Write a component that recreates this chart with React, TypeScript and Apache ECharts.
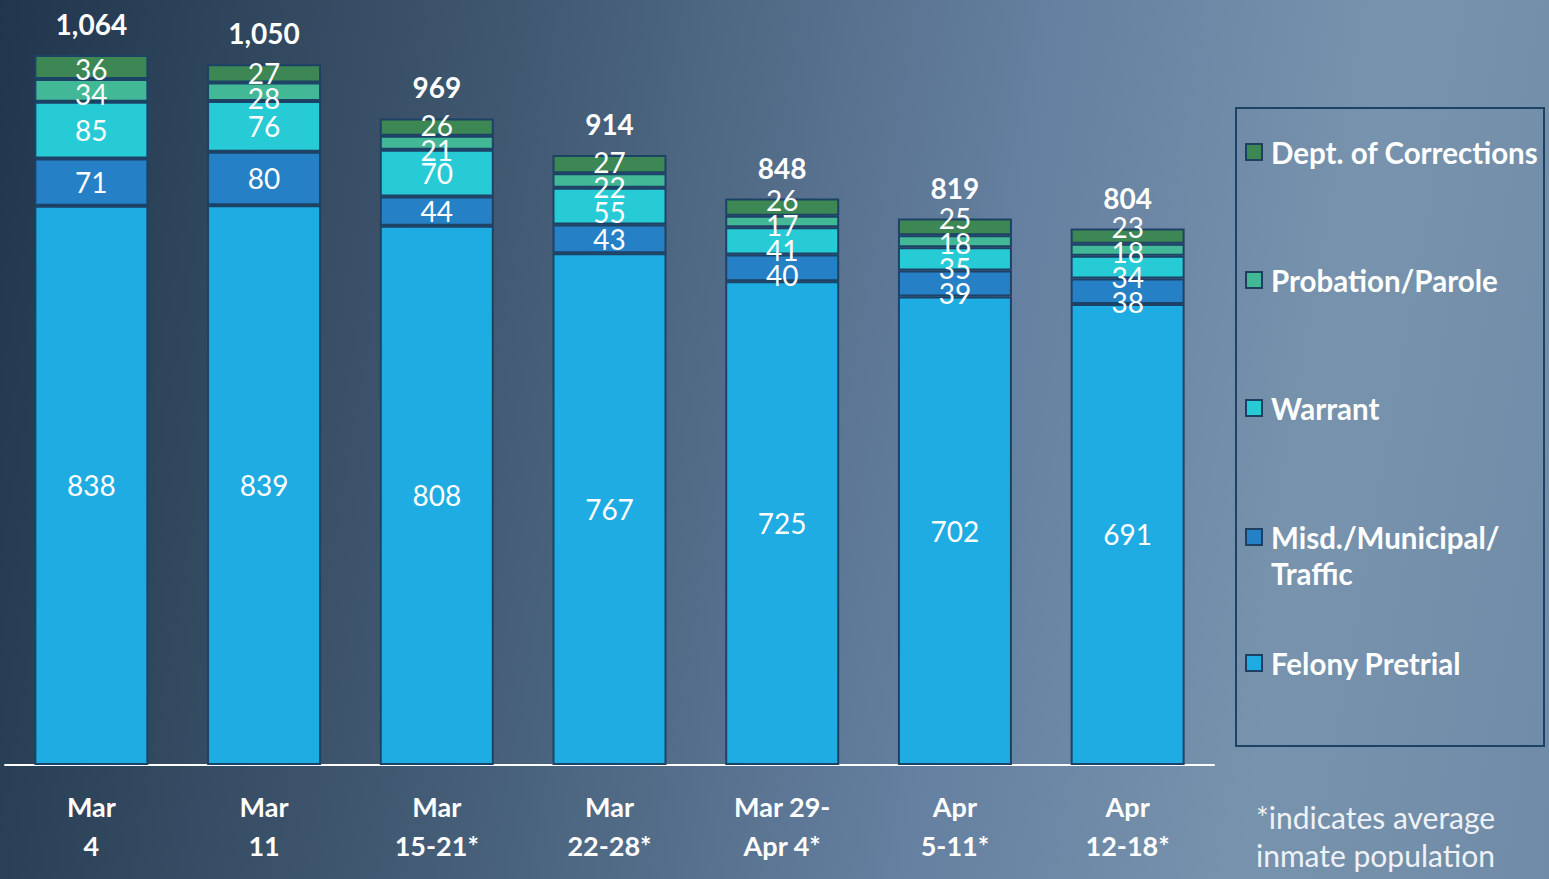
import React, { useEffect, useRef } from "react";
import * as echarts from "echarts";

const categories = ["Mar\n4", "Mar\n11", "Mar\n15-21*", "Mar\n22-28*", "Mar 29-\nApr 4*", "Apr\n5-11*", "Apr\n12-18*"];
const felonyPretrial = [838, 839, 808, 767, 725, 702, 691];
const misdMunicipalTraffic = [71, 80, 44, 43, 40, 39, 38];
const warrant = [85, 76, 70, 55, 41, 35, 34];
const probationParole = [34, 28, 21, 22, 17, 18, 18];
const deptOfCorrections = [36, 27, 26, 27, 26, 25, 23];
const totals = [1064, 1050, 969, 914, 848, 819, 804];

const seriesNames = ["Felony Pretrial", "Misd./Municipal/Traffic", "Warrant", "Probation/Parole", "Dept. of Corrections"];
const seriesValues = [felonyPretrial, misdMunicipalTraffic, warrant, probationParole, deptOfCorrections];
const seriesColors = ["#1eace2", "#2680c6", "#27cbd6", "#42b897", "#3c8753"];

const W = 1549;
const H = 879;
const GRID_TOP = 31;
const GRID_BOTTOM = 114;
const Y_MAX = 1100;
const FONT = "Lato, 'Open Sans', sans-serif";
const LABEL_GAP = 25;
const LABEL_SHIFT = 3;

// spread labels inside each column so they do not overlap (balanced groups)
function computeOffsets(): number[][] {
  const pxPerUnit = (H - GRID_TOP - GRID_BOTTOM) / Y_MAX;
  const offsets = seriesValues.map(() => categories.map(() => 0));
  for (let c = 0; c < categories.length; c++) {
    let base = 0;
    const desired: number[] = [];
    for (let s = 0; s < seriesValues.length; s++) {
      const v = seriesValues[s][c];
      desired.push((base + v / 2) * pxPerUnit);
      base += v;
    }
    type G = { items: number[]; start: number };
    const groups: G[] = [];
    for (let i = 0; i < desired.length; i++) {
      let g: G = { items: [i], start: desired[i] };
      while (groups.length) {
        const prev = groups[groups.length - 1];
        const prevEnd = prev.start + (prev.items.length - 1) * LABEL_GAP;
        if (prevEnd + LABEL_GAP > g.start) {
          groups.pop();
          const items = prev.items.concat(g.items);
          let sum = 0;
          items.forEach((it, k) => (sum += desired[it] - k * LABEL_GAP));
          g = { items, start: sum / items.length };
        } else break;
      }
      groups.push(g);
    }
    groups.forEach((g) => {
      const moved = g.items.length > 1 ? LABEL_SHIFT : 0;
      g.items.forEach((it, k) => {
        const pos = g.start + k * LABEL_GAP;
        offsets[it][c] = -(pos - desired[it]) + moved;
      });
    });
  }
  return offsets;
}

export default function App() {
  const ref = useRef<HTMLDivElement>(null);
  useEffect(() => {
    if (!ref.current) return;
    const chart = echarts.init(ref.current, undefined, { renderer: "svg" });
    const offsets = computeOffsets();
    const barSeries = seriesNames.map((name, s) => ({
      name,
      type: "bar",
      stack: "total",
      barWidth: 114,
      itemStyle: { color: seriesColors[s], borderColor: "#1c4266", borderWidth: 2 },
      label: {
        show: true,
        position: "inside",
        color: "#ffffff",
        fontFamily: FONT,
        fontSize: 28,
        lineHeight: 24,
      },
      data: seriesValues[s].map((v, c) => ({ value: v, label: { offset: [0, offsets[s][c]] } })),
    }));
    const legendCenters = [663, 537, 408, 280, 152];
    const legends = seriesNames.map((name, s) => {
      const isMisd = s === 1;
      return {
        data: [name],
        left: 1245,
        top: isMisd ? legendCenters[s] - 54 : legendCenters[s] - 18,
        padding: 0,
        icon: "rect",
        itemWidth: 16,
        itemHeight: 16,
        itemGap: 0,
        itemStyle: { borderColor: "#1c3f62", borderWidth: 2 },
        selectedMode: false,
        formatter: isMisd ? () => "\nMisd./Municipal/\nTraffic" : undefined,
        textStyle: {
          color: "#ffffff",
          fontFamily: FONT,
          fontWeight: "bold",
          fontSize: 29.5,
          lineHeight: 36,
          padding: [0, 0, 0, 4],
        },
      };
    });
    chart.setOption({
      animation: false,
      backgroundColor: "transparent",
      grid: { left: 5, right: W - 1214, top: GRID_TOP, bottom: GRID_BOTTOM },
      xAxis: {
        type: "category",
        data: categories,
        axisLine: { lineStyle: { color: "#ffffff", width: 2 } },
        axisTick: { show: false },
        axisLabel: {
          color: "#ffffff",
          fontFamily: FONT,
          fontWeight: "bold",
          fontSize: 27,
          lineHeight: 39,
          margin: 22,
          interval: 0,
        },
      },
      yAxis: { type: "value", min: 0, max: Y_MAX, show: false, splitLine: { show: false } },
      legend: legends,
      graphic: [
        {
          type: "rect",
          shape: { x: 1236, y: 108, width: 308, height: 638 },
          style: { fill: "none", stroke: "#1c4266", lineWidth: 2 },
          z: -1,
        },
        {
          type: "text",
          x: 1256,
          y: 798,
          style: {
            text: "*indicates average\ninmate population",
            fill: "#eef2f6",
            font: `30px ${FONT}`,
            lineHeight: 38,
          },
        },
      ],
      series: [
        ...barSeries,
        {
          name: "Total",
          type: "scatter",
          data: totals,
          symbolSize: 0,
          z: 10,
          itemStyle: { opacity: 1 },
          label: {
            show: true,
            position: "top",
            distance: 14,
            color: "#ffffff",
            opacity: 1,
            fontFamily: FONT,
            fontWeight: "bold",
            fontSize: 28,
            lineHeight: 34,
            formatter: (p: any) => Number(p.value).toLocaleString("en-US"),
          },
        },
      ],
    });
    return () => chart.dispose();
  }, []);
  return (
    <div
      style={{
        position: "absolute",
        left: 0,
        top: 0,
        width: W,
        height: H,
        background: "linear-gradient(100deg, #21364c 0%, #3f576f 30%, #6580a0 62%, #7793ad 82%, #6f8ba7 100%)",
      }}
    >
      <div ref={ref} style={{ width: W, height: H }} />
    </div>
  );
}
